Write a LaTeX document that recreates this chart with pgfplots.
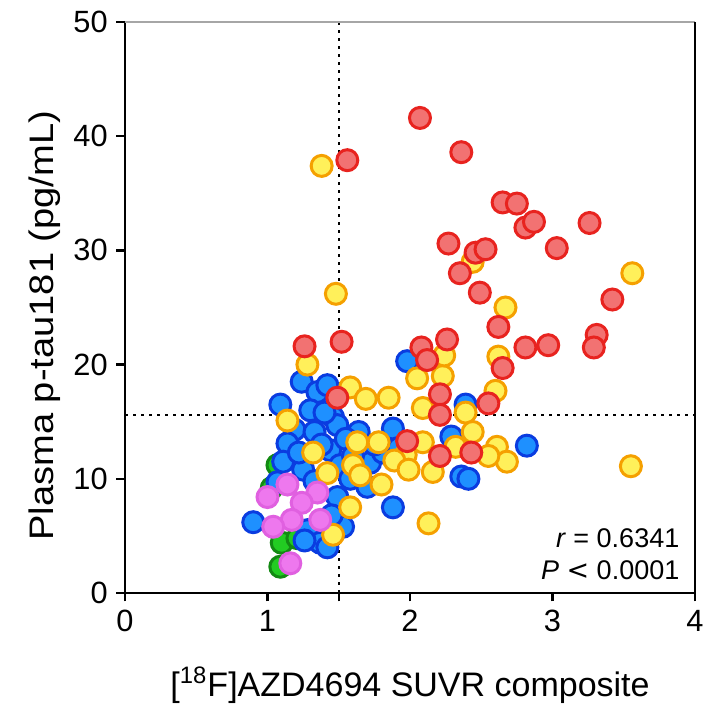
\documentclass[border=0pt]{standalone}
\usepackage{pgfplots}
\pgfplotsset{compat=1.18}
\usepackage{graphicx}
\usepackage{fontspec}
\setmainfont{Liberation Sans}
\definecolor{redfill}{HTML}{F27272}
\definecolor{rededge}{HTML}{E8231F}
\definecolor{yelfill}{HTML}{FFF05A}
\definecolor{yeledge}{HTML}{F5A000}
\definecolor{blufill}{HTML}{1E90FF}
\definecolor{bluedge}{HTML}{0A3CE0}
\definecolor{pinkfill}{HTML}{EE78EE}
\definecolor{pinkedge}{HTML}{E060E0}
\definecolor{grnfill}{HTML}{22CC22}
\definecolor{grnedge}{HTML}{138A13}
\begin{document}
\begin{tikzpicture}
\path[use as bounding box] (-50pt,-46pt) rectangle (232pt,237.2pt);
\begin{axis}[
  scale only axis,
  width=228pt, height=228.4pt,
  xmin=0, xmax=4, ymin=0, ymax=50,
  xtick={0,1,2,3,4}, ytick={0,10,20,30,40,50},
  extra x ticks={1.5}, extra x tick labels={},
  axis x line*=bottom, axis y line*=left,
  axis line style={line width=1pt, black},
  tick align=outside,
  major tick length=3.4pt,
  every tick/.style={line width=1pt, black},
  tick label style={font=\fontsize{12.3}{14}\selectfont},
  /pgf/number format/assume math mode=true,
  xlabel={[\textsuperscript{18}F]AZD4694 SUVR composite},
  ylabel={\scalebox{1.12}[1]{Plasma p-tau181 (pg/mL)}},
  label style={font=\fontsize{13.6}{16}\selectfont},
  xlabel style={at={(axis description cs:0.5,-0.161)}, anchor=center},
  ylabel style={at={(axis description cs:-0.14,0.468)}, anchor=center},
  clip=false,
]
\addplot[black, line width=1pt, dash pattern=on 1pt off 2.2pt] coordinates {(1.5,0) (1.5,50)};
\addplot[black, line width=1pt, dash pattern=on 1pt off 2.2pt] coordinates {(0,15.6) (4,15.6)};

% green
\addplot[only marks, mark=*, mark size=4.2pt, mark options={fill=grnfill, draw=grnedge, line width=1.2pt}] coordinates {
(1.09,2.3)(1.10,4.4)(1.03,9.2)(1.07,11.2)(1.21,4.8)
};
% blue
\addplot[only marks, mark=*, mark size=4.2pt, mark options={fill=blufill, draw=bluedge, line width=1.2pt}] coordinates {
(1.24,18.5)(1.35,17.6)(1.09,16.5)(1.46,15.4)(1.19,14.3)(1.33,14.1)(1.49,14.7)(1.64,14.1)
(1.88,14.4)(1.14,13.1)(1.44,12.5)(1.11,11.5)(1.25,10.8)(1.51,11.2)(1.72,11.4)(1.70,9.3)
(1.88,7.5)(0.90,6.2)(1.28,5.5)(1.37,4.4)(1.42,4.0)(1.53,5.8)(1.07,9.7)(1.49,8.4)
(1.98,20.3)(1.81,12.3)(1.42,18.2)(1.55,13.5)(1.60,12.0)(1.38,13.0)(1.30,16.0)(1.40,15.8)
(1.22,12.3)(1.58,10.0)(1.33,9.8)(1.75,13.0)(2.39,16.5)(2.29,13.7)(2.36,10.2)(2.41,10.0)
(2.82,12.9)(1.92,12.7)(1.26,4.6)(1.45,6.8)
};
% yellow
\addplot[only marks, mark=*, mark size=4.2pt, mark options={fill=yelfill, draw=yeledge, line width=1.2pt}] coordinates {
(1.38,37.4)(1.48,26.2)(3.56,28.0)(3.55,11.1)(2.67,25.0)(2.44,29.0)(1.28,20.0)(1.14,15.1)
(1.32,12.3)(1.58,18.0)(1.69,17.0)(1.85,17.1)(2.05,18.8)(2.23,19.0)(2.24,20.8)(2.62,20.7)
(2.60,17.7)(2.09,16.2)(2.39,15.8)(2.44,14.1)(2.09,13.2)(2.61,12.8)(2.68,11.5)(2.16,10.6)
(2.13,6.1)(1.63,13.2)(1.78,13.2)(1.60,11.2)(1.65,10.3)(1.80,9.5)(1.58,7.5)(1.46,5.1)
(1.42,10.5)(1.97,12.1)(1.89,11.6)(1.99,10.8)(2.32,12.8)(2.55,12.0)
};
% red
\addplot[only marks, mark=*, mark size=4.2pt, mark options={fill=redfill, draw=rededge, line width=1.2pt}] coordinates {
(2.07,41.6)(2.36,38.6)(1.56,37.9)(2.65,34.2)(2.75,34.1)(2.81,32.0)(2.87,32.5)(3.26,32.4)
(2.27,30.6)(2.46,29.8)(2.53,30.1)(3.03,30.2)(2.35,28.0)(2.49,26.3)(3.42,25.7)(2.62,23.3)
(3.31,22.6)(3.29,21.5)(2.97,21.7)(2.81,21.5)(2.26,22.2)(2.65,19.7)(2.08,21.5)(2.12,20.4)
(1.26,21.6)(1.52,22.0)(1.49,17.1)(2.21,17.4)(2.21,15.6)(2.55,16.6)(1.98,13.3)(2.21,12.0)
(2.43,12.3)
};
% pink
\addplot[only marks, mark=*, mark size=4.2pt, mark options={fill=pinkfill, draw=pinkedge, line width=1.2pt}] coordinates {
(1.14,9.5)(1.00,8.4)(1.35,8.8)(1.24,7.9)(1.17,6.4)(1.04,5.8)(1.37,6.4)(1.16,2.6)
};

\draw[gray!70, line width=0.8pt] (rel axis cs:0,1) -- (rel axis cs:1,1);
\draw[black, line width=1pt] (rel axis cs:1,0) -- (rel axis cs:1,1);

\node[anchor=east, font=\fontsize{10.8}{13}\selectfont] at (rel axis cs:0.988,0.096) {\textit{r} = 0.6341};
\node[anchor=east, font=\fontsize{10.8}{13}\selectfont] at (rel axis cs:0.988,0.040) {\textit{P} {\fontspec{DejaVu Sans}<} 0.0001};
\end{axis}
\end{tikzpicture}
\end{document}
